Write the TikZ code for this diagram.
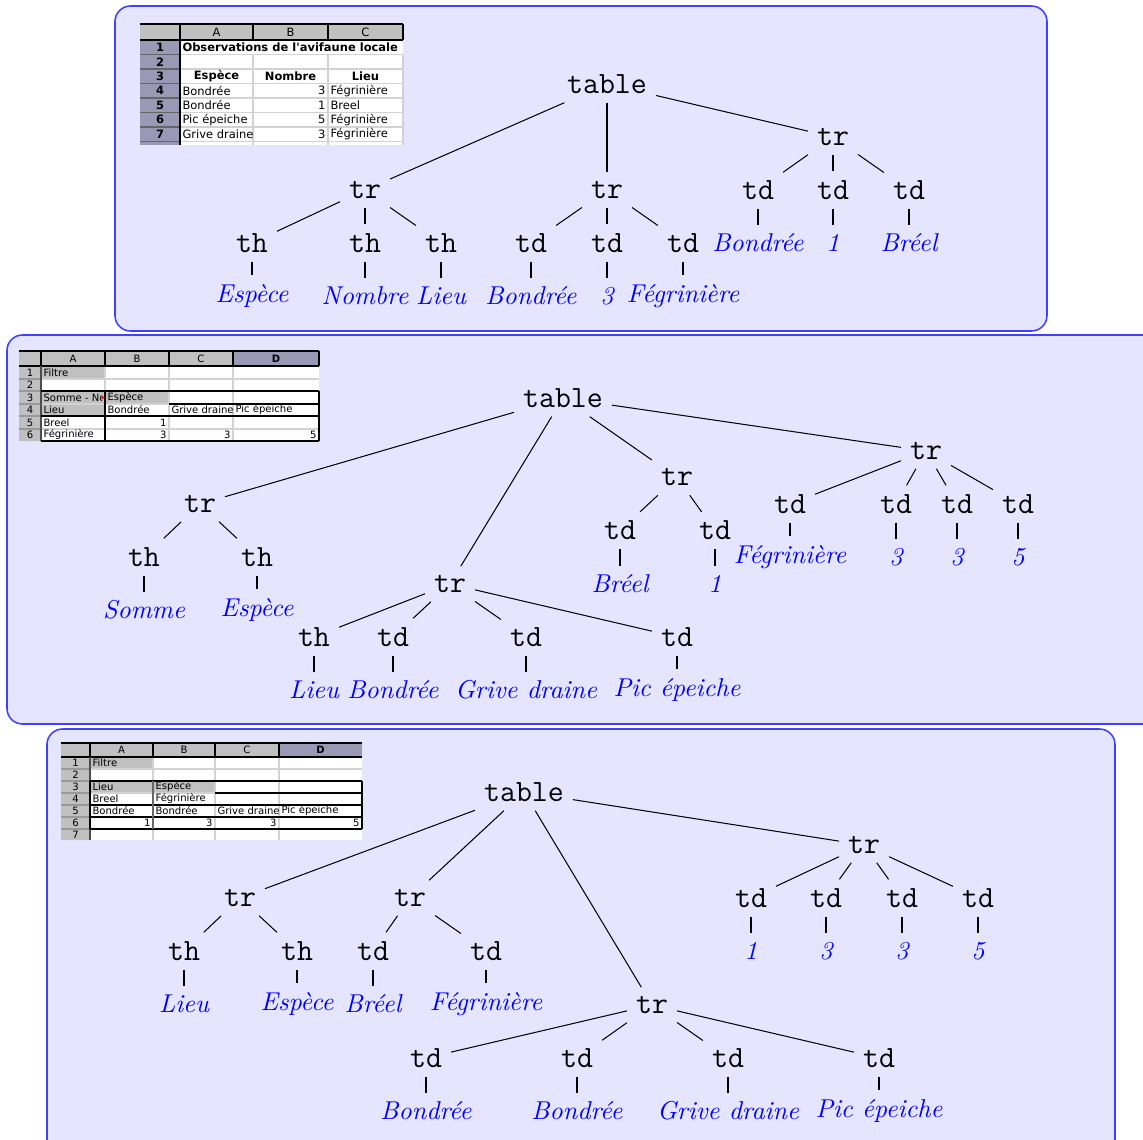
\documentclass[tikz,border=0pt]{standalone}
\usepackage{fontspec}
\newfontfamily\sheetfont{DejaVu Sans}

\definecolor{hdgray}{RGB}{192,192,192}
\definecolor{rowhd}{RGB}{153,153,182}
\definecolor{gridc}{RGB}{210,210,210}

\tikzset{
  tag/.style={font=\large\ttfamily},
  val/.style={font=\itshape, text=blue},
  panel/.style={draw=blue!75, fill=blue!10, line width=0.6pt, rounded corners=6pt},
  sheet/.style={font=\sheetfont\fontsize{#1}{#1}\selectfont, inner sep=0pt},
  sheet/.default=3.9,
}

\begin{document}
\begin{tikzpicture}[x=0.3876pt, y=-0.3876pt]
  \useasboundingbox (0,0) rectangle (1143,1140);
  \clip (0,0) rectangle (1143,1140);

  % frames
  \draw[panel] (115,6) rectangle (1047,331);
  \draw[panel] (7,335) rectangle (1170,724);
  \draw[panel] (47,729) rectangle (1115,1170);

  % first sheet
  \begin{scope}[every node/.append style={sheet=4.45}]
    \fill[white] (180,40) rectangle (403,145);
    \fill[hdgray] (140,24) rectangle (403,40);
    \fill[rowhd] (140,40) rectangle (180,145);
    \foreach \yy in {54.5,69,83.5,98,112.5,127,141.5} {
      \draw[gridc] (180,\yy) -- (403,\yy);
      \draw[black!60] (140,\yy) -- (180,\yy);
    }
    \foreach \xx in {253,328,403} \draw[gridc] (\xx,54.5) -- (\xx,145);
    \draw (140,24) -- (403,24) (140,40) -- (403,40) (180,24) -- (180,145);
    \foreach \xx in {253,328} \draw (\xx,24) -- (\xx,40);
    \draw[line width=0.8pt] (403,24) -- (403,40);
    \foreach \xx/\col in {216.5/A, 290.5/B, 365.5/C} \node (s1\col) at (\xx,32) {\col};
    \foreach \yy [count=\rw] in {47.25,61.75,76.25,90.75,105.25,119.75,134.25}
      \node (s1n\rw) at (160,\yy) {\bfseries\rw};
    \node[anchor=west] (s1title) at (182,47.25) {\bfseries Observations de l\textquotesingle avifaune locale};
    \foreach \xx/\txt [count=\cnt] in {216.5/Espèce, 290.5/Nombre, 365.5/Lieu}
      \node (s1h\cnt) at (\xx,76.25) {\bfseries\txt};
    \foreach \yy/\spc/\nbr/\plc [count=\cnt] in {90.75/Bondrée/3/Fégrinière, 105.25/Bondrée/1/Breel,
        119.75/Pic épeiche/5/Fégrinière, 134.25/Grive draine/3/Fégrinière} {
      \node[anchor=west] (s1a\cnt) at (182,\yy) {\spc};
      \node[anchor=east] (s1b\cnt) at (326,\yy) {\nbr};
      \node[anchor=west] (s1c\cnt) at (330,\yy) {\plc};
    }
  \end{scope}

  % second sheet
  \begin{scope}[every node/.append style={sheet}]
    \fill[white] (41,366) rectangle (319,441);
    \fill[hdgray] (19,351) rectangle (319,366) (19,366) rectangle (41,441);
    \fill[rowhd] (233,351) rectangle (319,366);
    \fill[hdgray] (41,366) rectangle (105,379) (41,391) rectangle (169,404) (41,404) rectangle (105,416);
    \foreach \yy in {379,391,404,416,429} {
      \draw[gridc] (41,\yy) -- (319,\yy);
      \draw[black!40] (19,\yy) -- (41,\yy);
    }
    \foreach \xx in {105,169,233} \draw[gridc] (\xx,366) -- (\xx,441);
    \draw (19,351) -- (319,351) (19,366) -- (319,366);
    \foreach \xx in {41,105,169,233,319} \draw (\xx,351) -- (\xx,366);
    \draw[black!70] (41,366) -- (41,441);
    \draw[line width=0.5pt] (41,391) -- (319,391) (169,404) -- (319,404) (41,416) -- (319,416)
      (41,441) -- (319,441) (319,391) -- (319,441) (105,391) -- (105,441);
    \foreach \xx/\col in {73/A, 137/B, 201/C} \node (s2\col) at (\xx,358.5) {\col};
    \node (s2D) at (276,358.5) {\bfseries D};
    \foreach \yy [count=\rw] in {372.5,385,397.5,410,422.5,435} \node (s2n\rw) at (30,\yy) {\rw};
    \node[anchor=west] (s2f) at (43,372.5) {Filtre};
    \begin{scope}
      \clip (41,391) rectangle (101,404);
      \node[anchor=west] (s2s) at (43,397.5) {Somme - No};
    \end{scope}
    \fill[red] (101.5,395.5) -- (104.5,397.5) -- (101.5,399.5) -- cycle;
    \node[anchor=west] (s2e) at (107,397.5) {Espèce};
    \foreach \xx/\txt [count=\cnt] in {43/Lieu, 107/Bondrée, 171/Grive draine, 235/Pic épeiche}
      \node[anchor=west] (s2h\cnt) at (\xx,410) {\txt};
    \node[anchor=west] (s2l1) at (43,422.5) {Breel};
    \node[anchor=east] (s2v1) at (167,422.5) {1};
    \node[anchor=west] (s2l2) at (43,435) {Fégrinière};
    \foreach \xx/\nbr [count=\cnt] in {167/3, 231/3, 317/5}
      \node[anchor=east] (s2w\cnt) at (\xx,435) {\nbr};
  \end{scope}

  % third sheet
  \begin{scope}[every node/.append style={sheet}]
    \fill[white] (90,757) rectangle (362,840);
    \fill[hdgray] (61,743) rectangle (362,757) (61,757) rectangle (90,840);
    \fill[rowhd] (279,743) rectangle (362,757);
    \fill[hdgray] (90,757) rectangle (153,769) (90,781) rectangle (215,793);
    \foreach \yy in {769,781,793,805,817,829} {
      \draw[gridc] (90,\yy) -- (362,\yy);
      \draw[black!40] (61,\yy) -- (90,\yy);
    }
    \foreach \xx in {153,215,279} \draw[gridc] (\xx,757) -- (\xx,840);
    \draw (61,743) -- (362,743) (61,757) -- (362,757);
    \foreach \xx in {90,153,215,279} \draw (\xx,743) -- (\xx,757);
    \draw[black!70] (90,757) -- (90,840);
    \draw[line width=0.5pt] (90,781) -- (362,781) (215,793) -- (362,793) (90,805) -- (362,805)
      (90,817) -- (362,817) (90,829) -- (362,829) (362,781) -- (362,829) (90,781) -- (90,829);
    \draw[black!60] (153,781) -- (153,829);
    \foreach \xx/\col in {121.5/A, 184/B, 247/C} \node (s3\col) at (\xx,750) {\col};
    \node (s3D) at (320.5,750) {\bfseries D};
    \foreach \yy [count=\rw] in {763,775,787,799,811,823,834.5} \node (s3n\rw) at (75.5,\yy) {\rw};
    \node[anchor=west] (s3f) at (92,763) {Filtre};
    \node[anchor=west] (s3l) at (92,787) {Lieu};
    \node[anchor=west] (s3e) at (155,787) {Espèce};
    \node[anchor=west] (s3b) at (92,799) {Breel};
    \node[anchor=west] (s3g) at (155,799) {Fégrinière};
    \foreach \xx/\txt [count=\cnt] in {92/Bondrée, 155/Bondrée, 217/Grive draine, 281/Pic épeiche}
      \node[anchor=west] (s3h\cnt) at (\xx,811) {\txt};
    \foreach \xx/\nbr [count=\cnt] in {151/1, 213/3, 277/3, 360/5}
      \node[anchor=east] (s3w\cnt) at (\xx,823) {\nbr};
  \end{scope}

  % first tree
  \node[tag] (t1) at (607,84) {table};
  \node[tag] (r1a) at (365,190) {tr};
  \node[tag] (r1b) at (607,190) {tr};
  \node[tag] (r1c) at (833,137) {tr};
  \foreach \nm/\pos/\txt in {a/252/th, b/365/th, c/441/th, d/531/td, e/607/td, f/683/td}
    \node[tag] (c1\nm) at (\pos,243) {\txt};
  \foreach \nm/\pos in {g/758, h/833, i/909} \node[tag] (c1\nm) at (\pos,190) {td};
  \foreach \nm/\pos/\txt in {a/252/Espèce, b/365/Nombre, c/441/Lieu, d/531/Bondrée, e/607/3, f/683/Fégrinière}
    \node[val] (v1\nm) at (\pos,296) {\txt};
  \foreach \nm/\pos/\txt in {g/758/Bondrée, h/833/1, i/909/Bréel}
    \node[val] (v1\nm) at (\pos,243) {\txt};
  \foreach \src/\dst in {t1/r1a, t1/r1b, t1/r1c, r1a/c1a, r1a/c1b, r1a/c1c,
      r1b/c1d, r1b/c1e, r1b/c1f, r1c/c1g, r1c/c1h, r1c/c1i}
    \draw (\src) -- (\dst);
  \foreach \nm in {a,...,i} \draw (c1\nm) -- (v1\nm);

  % second tree
  \node[tag] (t2) at (563,398) {table};
  \node[tag] (r2a) at (200,504) {tr};
  \node[tag] (r2b) at (450,584) {tr};
  \node[tag] (r2c) at (677,477.5) {tr};
  \node[tag] (r2d) at (926,451) {tr};
  \foreach \nm/\pos/\txt in {a/144/th, b/257/th} \node[tag] (c2\nm) at (\pos,557) {\txt};
  \foreach \nm/\pos/\txt in {c/314/th, d/393/td, e/526/td, f/677/td} \node[tag] (c2\nm) at (\pos,637) {\txt};
  \foreach \nm/\pos in {g/620, h/715} \node[tag] (c2\nm) at (\pos,530.5) {td};
  \foreach \nm/\pos in {i/790, j/896, k/957, l/1018} \node[tag] (c2\nm) at (\pos,504) {td};
  \foreach \nm/\pos/\txt in {a/144/Somme, b/257/Espèce} \node[val] (v2\nm) at (\pos,610) {\txt};
  \foreach \nm/\pos/\txt in {c/314/Lieu, d/393/Bondrée, e/526/Grive draine, f/677/Pic épeiche}
    \node[val] (v2\nm) at (\pos,690) {\txt};
  \foreach \nm/\pos/\txt in {g/620/Bréel, h/715/1} \node[val] (v2\nm) at (\pos,584) {\txt};
  \foreach \nm/\pos/\txt in {i/790/Fégrinière, j/896/3, k/957/3, l/1018/5} \node[val] (v2\nm) at (\pos,557) {\txt};
  \foreach \src/\dst in {t2/r2a, t2/r2b, t2/r2c, t2/r2d, r2a/c2a, r2a/c2b, r2b/c2c, r2b/c2d,
      r2b/c2e, r2b/c2f, r2c/c2g, r2c/c2h, r2d/c2i, r2d/c2j, r2d/c2k, r2d/c2l}
    \draw (\src) -- (\dst);
  \foreach \nm in {a,...,l} \draw (c2\nm) -- (v2\nm);

  % third tree
  \node[tag] (t3) at (524,792) {table};
  \node[tag] (r3a) at (240,898) {tr};
  \node[tag] (r3b) at (410,898) {tr};
  \node[tag] (r3c) at (652,1005) {tr};
  \node[tag] (r3d) at (864,845) {tr};
  \foreach \nm/\pos/\txt in {a/184/th, b/297/th, c/373/td, d/486/td} \node[tag] (c3\nm) at (\pos,951) {\txt};
  \foreach \nm/\pos in {e/426, f/577, g/728, h/879} \node[tag] (c3\nm) at (\pos,1058) {td};
  \foreach \nm/\pos in {i/751, j/826, k/902, l/978} \node[tag] (c3\nm) at (\pos,898) {td};
  \foreach \nm/\pos/\txt in {a/184/Lieu, b/297/Espèce, c/373/Bréel, d/486/Fégrinière}
    \node[val] (v3\nm) at (\pos,1004) {\txt};
  \foreach \nm/\pos/\txt in {e/426/Bondrée, f/577/Bondrée, g/728/Grive draine, h/879/Pic épeiche}
    \node[val] (v3\nm) at (\pos,1111) {\txt};
  \foreach \nm/\pos/\txt in {i/751/1, j/826/3, k/902/3, l/978/5} \node[val] (v3\nm) at (\pos,951) {\txt};
  \foreach \src/\dst in {t3/r3a, t3/r3b, t3/r3c, t3/r3d, r3a/c3a, r3a/c3b, r3b/c3c, r3b/c3d,
      r3c/c3e, r3c/c3f, r3c/c3g, r3c/c3h, r3d/c3i, r3d/c3j, r3d/c3k, r3d/c3l}
    \draw (\src) -- (\dst);
  \foreach \nm in {a,...,l} \draw (c3\nm) -- (v3\nm);
\end{tikzpicture}
\end{document}
